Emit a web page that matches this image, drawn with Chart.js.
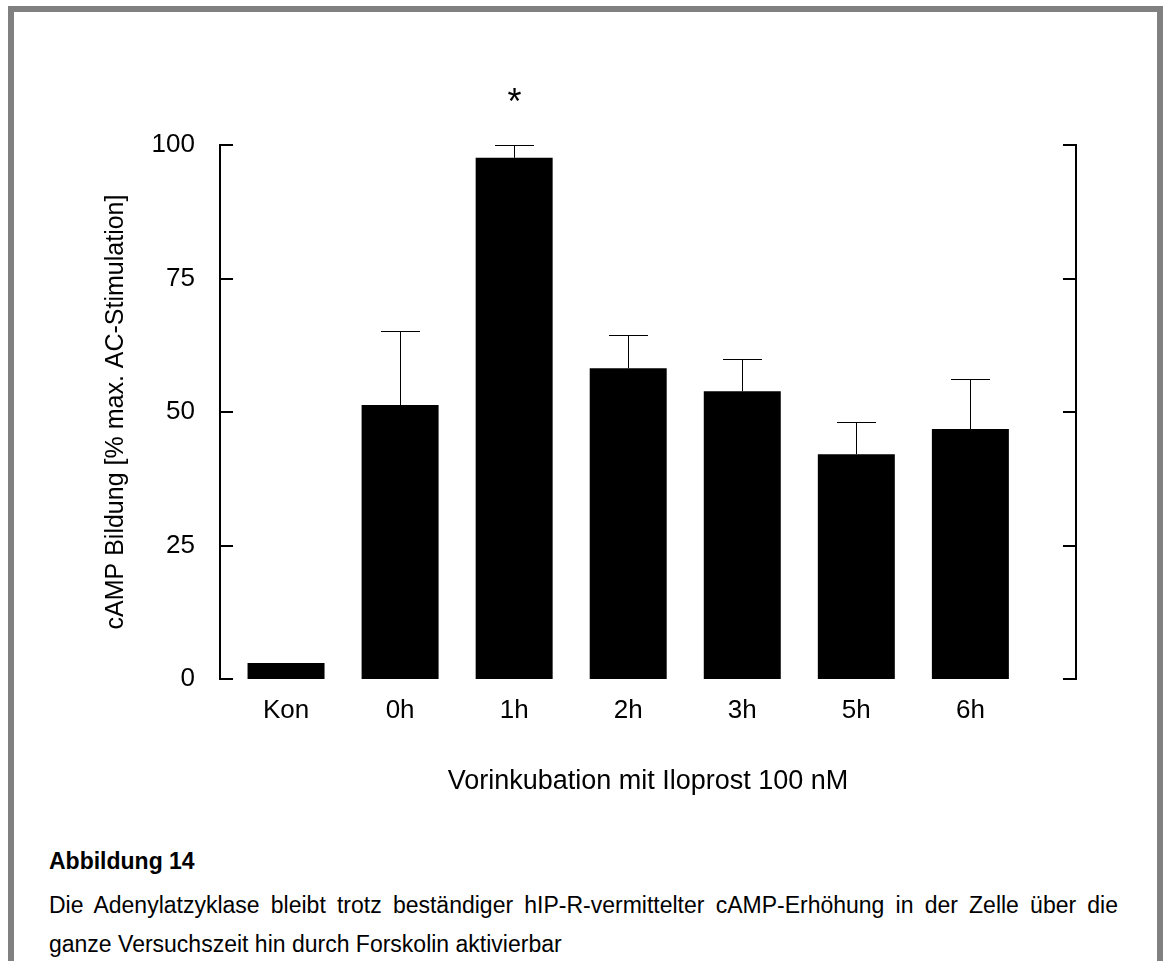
<!DOCTYPE html>
<html>
<head>
<meta charset="utf-8">
<script src="https://cdn.jsdelivr.net/npm/chart.js@4/dist/chart.umd.min.js"></script>
<style>
  body { margin: 0; background: #fff; font-family: 'Liberation Sans', Arial, sans-serif; }
  #page { position: relative; width: 1167px; height: 961px; overflow: hidden; }
  #frame { position: absolute; left: 8px; top: 6px; width: 1155px; height: 1000px; box-sizing: border-box;
           border: 6px solid #808080; border-bottom: none; }
  #chart { position: absolute; left: 0; top: 0; }
  #figTitle { position: absolute; left: 49px; top: 842px; font-weight: bold; font-size: 23px; line-height: 39px; }
  #figText { position: absolute; left: 49px; top: 886px; width: 1069px; font-size: 23px; line-height: 38.5px; }
  #figText .l1 { text-align: justify; text-align-last: justify; }
</style>
</head>
<body>
<div id="page">
  <div id="frame"></div>
  <canvas id="chart" width="1167" height="802"></canvas>
  <div id="figTitle">Abbildung 14</div>
  <div id="figText">
    <div class="l1">Die Adenylatzyklase bleibt trotz beständiger hIP-R-vermittelter cAMP-Erhöhung in der Zelle über die</div>
    <div>ganze Versuchszeit hin durch Forskolin aktivierbar</div>
  </div>
</div>
<script>
// data
const categories = ["Kon", "0h", "1h", "2h", "3h", "5h", "6h"];
const means = [3, 51.3, 97.6, 58.2, 53.9, 42.1, 46.8];
const errors = [0, 13.9, 2.4, 6.3, 6.0, 6.1, 9.4];
const significant = [false, false, true, false, false, false, false];
const yTickStep = 25;

Chart.defaults.font.family = "'Liberation Sans', Arial, sans-serif";
Chart.defaults.color = "#000";

// ticks pointing into the plot on both y axes
const inwardTicks = {
  id: "inwardTicks",
  afterDraw(chart) {
    const ctx = chart.ctx;
    const area = chart.chartArea;
    ctx.save();
    ctx.strokeStyle = "#000";
    ctx.lineWidth = 2;
    for (const t of chart.scales.y.ticks) {
      const y = Math.round(chart.scales.y.getPixelForValue(t.value));
      ctx.beginPath();
      ctx.moveTo(area.left, y);
      ctx.lineTo(area.left + 13, y);
      ctx.moveTo(area.right, y);
      ctx.lineTo(area.right - 13, y);
      ctx.stroke();
    }
    ctx.restore();
  }
};

// upward error bars + significance star
const errorBars = {
  id: "errorBars",
  afterDatasetsDraw(chart) {
    const ctx = chart.ctx;
    const xs = chart.scales.x;
    const ys = chart.scales.y;
    ctx.save();
    ctx.strokeStyle = "#000";
    ctx.lineWidth = 1;
    means.forEach((m, i) => {
      const x = Math.round(xs.getPixelForValue(i)) + 0.5;
      const top = Math.round(ys.getPixelForValue(m + errors[i])) + 0.5;
      if (errors[i] > 0) {
        ctx.beginPath();
        ctx.moveTo(x, ys.getPixelForValue(m));
        ctx.lineTo(x, top);
        ctx.moveTo(x - 19.5, top);
        ctx.lineTo(x + 19.5, top);
        ctx.stroke();
      }
      if (significant[i]) {
        ctx.fillStyle = "#000";
        ctx.font = "36px 'Liberation Sans', Arial, sans-serif";
        ctx.textAlign = "center";
        ctx.textBaseline = "alphabetic";
        ctx.fillText("*", x, top - 32);
      }
    });
    ctx.restore();
  }
};

new Chart(document.getElementById("chart"), {
  type: "bar",
  data: {
    datasets: [{
      data: means.map((v, i) => ({ x: i, y: v })),
      backgroundColor: "#000",
      borderWidth: 0,
      barPercentage: 1,
      categoryPercentage: 0.675
    }]
  },
  options: {
    responsive: false,
    animation: false,
    layout: { padding: { left: 97, right: 0, top: 145, bottom: 0 } },
    plugins: { legend: { display: false }, tooltip: { enabled: false } },
    scales: {
      x: {
        type: "linear",
        offset: false,
        min: -0.579,
        max: 6.926,
        grid: { display: false, drawTicks: false },
        border: { display: false },
        afterBuildTicks: (scale) => { scale.ticks = categories.map((c, i) => ({ value: i })); },
        afterFit: (scale) => { scale.height = 123; },
        ticks: {
          autoSkip: false,
          maxRotation: 0,
          padding: 16,
          font: { size: 26 },
          callback: (v) => categories[v]
        },
        title: {
          display: true,
          text: "Vorinkubation mit Iloprost 100 nM",
          font: { size: 27 },
          padding: { top: 4, bottom: 4 }
        }
      },
      y: {
        min: 0,
        max: 100,
        grid: { display: false, drawTicks: false },
        border: { display: true, color: "#000", width: 2 },
        afterFit: (scale) => { scale.width = 123; },
        ticks: { stepSize: yTickStep, padding: 25, font: { size: 26 } },
        title: {
          display: true,
          text: "cAMP Bildung [% max. AC-Stimulation]",
          font: { size: 25 },
          padding: { top: 4, bottom: 4 }
        }
      },
      y2: {
        position: "right",
        min: 0,
        max: 100,
        grid: { display: false, drawTicks: false },
        border: { display: true, color: "#000", width: 2 },
        afterFit: (scale) => { scale.width = 91; },
        ticks: { display: false, stepSize: yTickStep }
      }
    }
  },
  plugins: [inwardTicks, errorBars]
});
</script>
</body>
</html>
